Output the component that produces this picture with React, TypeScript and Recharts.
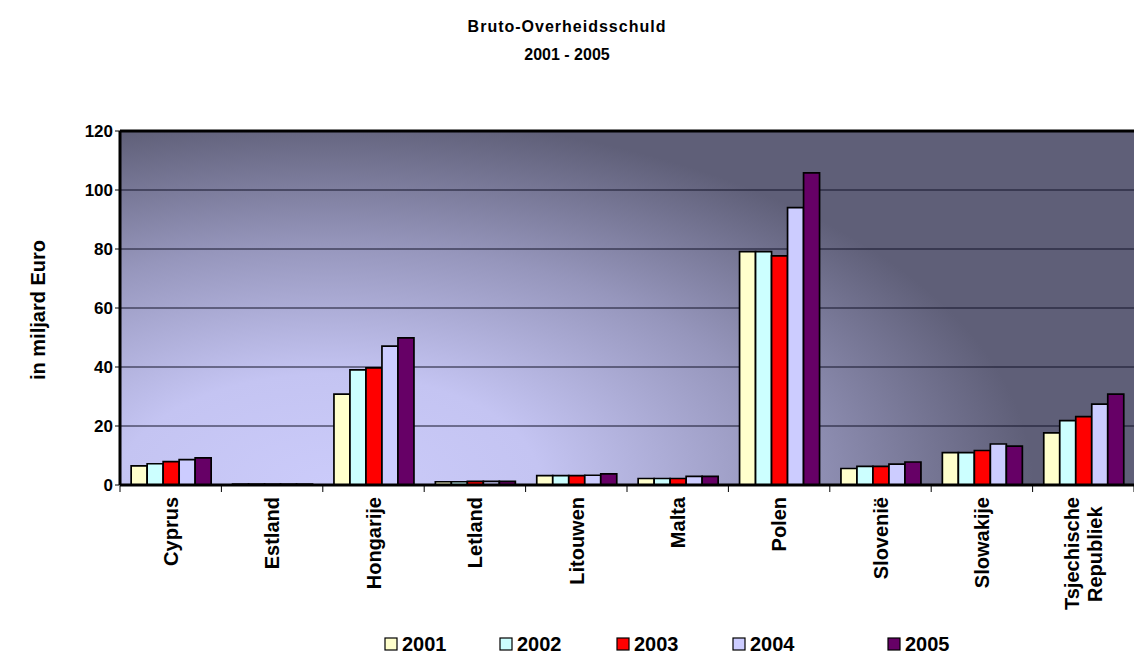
import React from 'react';
import { BarChart, Bar, XAxis, YAxis, CartesianGrid, Legend, ReferenceLine } from 'recharts';

const categories = ['Cyprus', 'Estland', 'Hongarije', 'Letland', 'Litouwen', 'Malta', 'Polen', 'Slovenië', 'Slowakije', 'Tsjechische\nRepubliek'];
const years = ['2001', '2002', '2003', '2004', '2005'];
const v2001 = [6.5, 0.3, 30.8, 1.1, 3.2, 2.2, 79.1, 5.6, 11.0, 17.7];
const v2002 = [7.2, 0.3, 39.0, 1.1, 3.2, 2.2, 79.1, 6.3, 11.0, 21.8];
const v2003 = [7.9, 0.3, 39.7, 1.2, 3.2, 2.2, 77.7, 6.3, 11.7, 23.2];
const v2004 = [8.6, 0.3, 47.1, 1.2, 3.3, 2.9, 94.0, 7.1, 13.9, 27.4];
const v2005 = [9.2, 0.3, 49.9, 1.2, 3.8, 2.9, 105.8, 7.8, 13.2, 30.8];
const yTicks = [0, 20, 40, 60, 80, 100, 120];
const title = ['Bruto-Overheidsschuld', '2001 - 2005'];
const yTitle = 'in miljard Euro';
const colors = ['#FFFFCC', '#CCFFFF', '#FF0000', '#CCCCFF', '#660066'];

const seriesValues = [v2001, v2002, v2003, v2004, v2005];
const data = categories.map((c, i) => {
  const row: Record<string, string | number> = { name: c };
  years.forEach((y, k) => { row[y] = seriesValues[k][i]; });
  return row;
});

const W = 1134;
const H = 662;
const PLOT_LEFT = 120;
const PLOT_TOP = 131;
const PLOT_BOTTOM = 485;
const PLOT_RIGHT_MARGIN = 0;
const X_AXIS_H = 40;
const BAND = (W - PLOT_LEFT - PLOT_RIGHT_MARGIN) / categories.length;
const FONT = 'Arial, "Liberation Sans", Helvetica, sans-serif';

const CatTick = (props: any) => {
  const { x, y, payload, index } = props;
  const lines = String(payload.value).split('\n');
  const fs = 20;
  const top = 4;
  const ax = y - 7;
  return (
    <g>
      <line x1={x - BAND / 2} x2={x - BAND / 2} y1={ax} y2={ax + 6} stroke="#000" strokeWidth={1} />
      {index === categories.length - 1 && (
        <line x1={x + BAND / 2} x2={x + BAND / 2} y1={ax} y2={ax + 6} stroke="#000" strokeWidth={1} />
      )}
      {lines.length === 1 ? (
        <text
          transform={`translate(${x},${y + top}) rotate(-90)`}
          textAnchor="end"
          dy="0.36em"
          fontSize={fs}
          fontWeight="bold"
          fontFamily={FONT}
          fill="#000"
        >
          {lines[0]}
        </text>
      ) : (
        <g transform={`translate(${x},${y + top}) rotate(-90)`}>
          <text textAnchor="end" dy="-0.24em" fontSize={fs} fontWeight="bold" fontFamily={FONT} fill="#000">
            {lines[0]}
          </text>
          <text x={-lines[0].length * fs * 0.26} textAnchor="middle" dy="0.94em" fontSize={fs} fontWeight="bold" fontFamily={FONT} fill="#000">
            {lines[1]}
          </text>
        </g>
      )}
    </g>
  );
};

const legendX = [385, 500, 617, 733, 888];

const LegendContent = (props: any) => {
  const { payload } = props;
  return (
    <svg width={W} height={40} style={{ display: 'block' }}>
      {(payload || []).map((p: any, i: number) => (
        <g key={p.value}>
          <rect x={legendX[i]} y={10} width={12} height={12} fill={p.color} stroke="#000" strokeWidth={1.2} />
          <text x={legendX[i] + 17} y={23} fontSize={20} fontWeight="bold" fontFamily={FONT} fill="#000">
            {p.value}
          </text>
        </g>
      ))}
    </svg>
  );
};

export default function App() {
  return (
    <div style={{ position: 'absolute', left: 0, top: 0, width: W, height: H, background: '#fff', overflow: 'hidden' }}>
      <svg width={0} height={0} style={{ position: 'absolute' }}>
        <defs>
          <radialGradient
            id="plotBg"
            gradientUnits="userSpaceOnUse"
            cx={330}
            cy={485}
            r={370}
            gradientTransform="translate(330,485) scale(1.9,1) translate(-330,-485)"
          >
            <stop offset="0" stopColor="#cbcbfa" />
            <stop offset="0.3" stopColor="#c4c4f2" />
            <stop offset="0.65" stopColor="#9696bc" />
            <stop offset="1" stopColor="#5f5f78" />
          </radialGradient>
        </defs>
      </svg>
      <BarChart
        width={W}
        height={H}
        data={data}
        margin={{ top: PLOT_TOP, right: PLOT_RIGHT_MARGIN, left: 0, bottom: H - PLOT_BOTTOM - X_AXIS_H }}
        barCategoryGap="11%"
        barGap={0}
      >
        <CartesianGrid vertical={false} horizontal={true} stroke="#15152a" strokeWidth={1} fill="url(#plotBg)" fillOpacity={1} />
        <XAxis
          dataKey="name"
          height={X_AXIS_H}
          axisLine={{ stroke: '#000', strokeWidth: 3 }}
          tickLine={false}
          tick={<CatTick />}
          interval={0}
        />
        <YAxis
          width={PLOT_LEFT}
          domain={[0, 120]}
          ticks={yTicks}
          axisLine={{ stroke: '#000', strokeWidth: 3 }}
          tickLine={{ stroke: '#000', strokeWidth: 1 }}
          tickSize={5}
          tick={{ fontSize: 17, fontWeight: 'bold', fill: '#000', fontFamily: FONT }}
        />
        <ReferenceLine y={120} stroke="#000" strokeWidth={3} />
        <Legend verticalAlign="middle" layout="horizontal" content={<LegendContent />} wrapperStyle={{ position: 'absolute', left: 0, top: 628, width: W, height: 40 }} />
        {years.map((y, k) => (
          <Bar key={y} dataKey={y} fill={colors[k]} stroke="#000" strokeWidth={1.7} isAnimationActive={false} />
        ))}
      </BarChart>
      <svg width={W} height={H} style={{ position: 'absolute', left: 0, top: 0, pointerEvents: 'none' }}>
        <text x={567} y={32} textAnchor="middle" fontSize={16} fontWeight="bold" fontFamily={FONT} letterSpacing={1} fill="#000">
          {title[0]}
        </text>
        <text x={567} y={60} textAnchor="middle" fontSize={16} fontWeight="bold" fontFamily={FONT} fill="#000">
          {title[1]}
        </text>
        <text transform="translate(38,310) rotate(-90)" textAnchor="middle" dy="0.36em" fontSize={20} fontWeight="bold" fontFamily={FONT} fill="#000">
          {yTitle}
        </text>
      </svg>
    </div>
  );
}
